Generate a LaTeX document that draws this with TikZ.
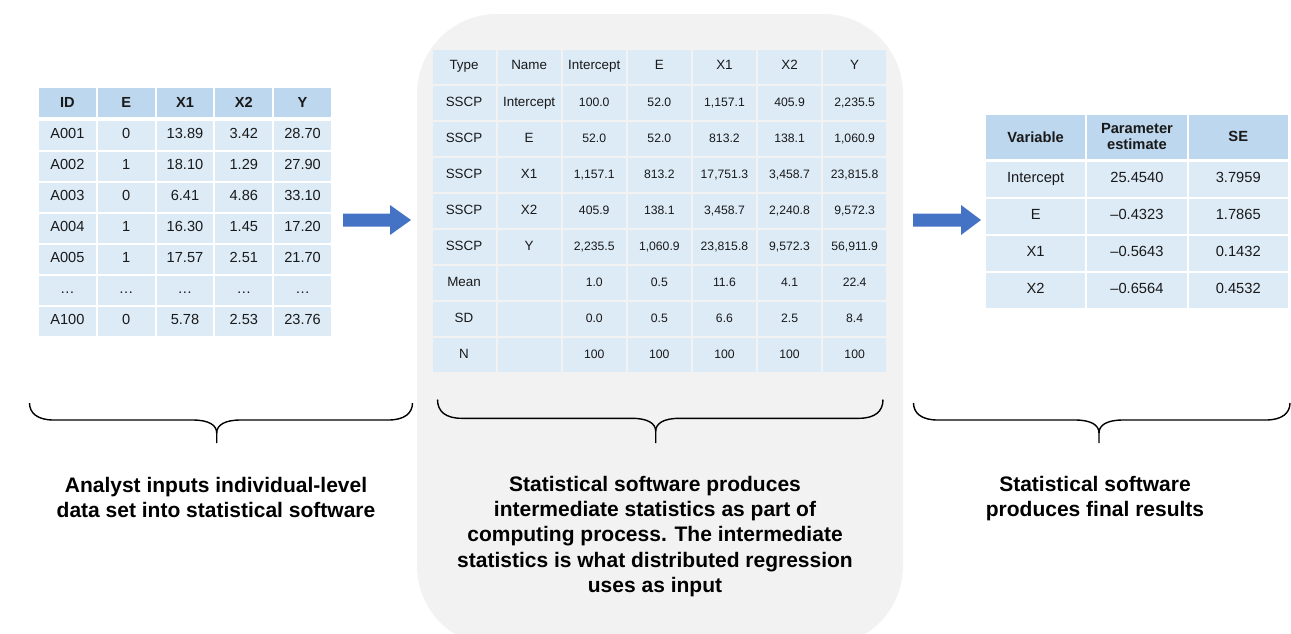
\documentclass[tikz,border=0pt]{standalone}
\usepackage{fontspec}
\setmainfont{Liberation Sans}
\definecolor{hdr}{RGB}{189,215,238}
\definecolor{bodyc}{RGB}{221,235,247}
\definecolor{bgc}{RGB}{242,242,242}
\definecolor{arrc}{RGB}{68,114,196}
\newcommand{\mycell}[7]{%
  \node[#6, minimum width={(#4-#2-2)*1pt}, minimum height={(#5-#3-2)*1pt}] (#1) at ({(#2+#4)/2},{(#3+#5)/2}) {#7};}
\newcommand{\mybrace}[7]{% name, xl, xm, xr, ytop, yh, ybot
  \coordinate (#1-l) at (#2,#5);
  \coordinate (#1-r) at (#4,#5);
  \coordinate (#1-t) at (#3,#7);
  \draw[bracel] (#1-l) .. controls (#2,{#6-7}) and ({#2+8},#6) .. ({#2+24},#6) -- ({#3-24},#6)
     .. controls ({#3-8},#6) and (#3,{#6+5}) .. (#3,{#6+13}) -- (#1-t);
  \draw[bracel] (#1-r) .. controls (#4,{#6-7}) and ({#4-8},#6) .. ({#4-24},#6) -- ({#3+24},#6)
     .. controls ({#3+8},#6) and (#3,{#6+5}) .. (#3,{#6+13});}
\newcommand{\lfnt}{\fontsize{14.6}{17}\selectfont}
\newcommand{\mlab}{\fontsize{13.4}{16}\selectfont}
\newcommand{\mnum}{\fontsize{12.2}{14}\selectfont}
\newcommand{\rfnt}{\fontsize{14.7}{16.5}\selectfont}
\begin{document}
\begin{tikzpicture}[x=1pt,y=-1pt,
  cellb/.style={fill=bodyc, inner sep=0pt, text=black!90, text height=0.72em, text depth=0.05em},
  cellh/.style={fill=hdr, inner sep=0pt, text=black!90, align=center},
  bracel/.style={line width=1.4pt, black},
  arrow/.style={fill=arrc},
  caption/.style={font=\bfseries\fontsize{21}{25.3}\selectfont, align=center, text=black}]
\useasboundingbox (0,0) rectangle (1291,633);
\fill[white] (0,0) rectangle (1291,633);
% grey panel
\fill[bgc, rounded corners=80pt] (417,14) rectangle (903,646);

% ---------- left table ----------
\foreach \t [count=\c] in {ID,E,X1,X2,Y}{
  \pgfmathsetmacro\xa{38+58.8*(\c-1)}
  \pgfmathsetmacro\xb{\xa+58.8}
  \mycell{L-0-\c}{\xa}{87}{\xb}{118}{cellh, font=\lfnt\bfseries}{\t}
}
\foreach \row [count=\r] in {{A001,0,13.89,3.42,28.70},{A002,1,18.10,1.29,27.90},
   {A003,0,6.41,4.86,33.10},{A004,1,16.30,1.45,17.20},{A005,1,17.57,2.51,21.70},
   {…,…,…,…,…},{A100,0,5.78,2.53,23.76}}{
  \pgfmathsetmacro\ya{120+31*(\r-1)}
  \pgfmathsetmacro\yb{\ya+31}
  \foreach \t [count=\c] in \row {
    \pgfmathsetmacro\xa{38+58.8*(\c-1)}
    \pgfmathsetmacro\xb{\xa+58.8}
    \mycell{L-\r-\c}{\xa}{\ya}{\xb}{\yb}{cellb, font=\lfnt}{\t}
  }
}

% ---------- middle table ----------
\foreach \row [count=\r] in {{Type,Name,Intercept,E,X1,X2,Y},
   {SSCP,Intercept,100.0,52.0,{1,157.1},405.9,{2,235.5}},
   {SSCP,E,52.0,52.0,813.2,138.1,{1,060.9}},
   {SSCP,X1,{1,157.1},813.2,{17,751.3},{3,458.7},{23,815.8}},
   {SSCP,X2,405.9,138.1,{3,458.7},{2,240.8},{9,572.3}},
   {SSCP,Y,{2,235.5},{1,060.9},{23,815.8},{9,572.3},{56,911.9}},
   {Mean,{},1.0,0.5,11.6,4.1,22.4},
   {SD,{},0.0,0.5,6.6,2.5,8.4},
   {N,{},100,100,100,100,100}}{
  \pgfmathsetmacro\ya{48.5+36.1*(\r-1)}
  \pgfmathsetmacro\yb{\ya+36.1}
  \foreach \t [count=\c] in \row {
    \pgfmathsetmacro\xa{431.5+65.1*(\c-1)}
    \pgfmathsetmacro\xb{\xa+65.1}
    \ifnum\c<3 \def\myf{\mlab}\else\ifnum\r=1 \def\myf{\mlab}\else\def\myf{\mnum}\fi\fi
    \mycell{M-\r-\c}{\xa}{\ya}{\xb}{\yb}{cellb, font=\myf}{\t}
  }
}

% ---------- right table ----------
\foreach \t [count=\c] in {Variable,{Parameter\\estimate},SE}{
  \pgfmathsetmacro\xa{985+101.3*(\c-1)}
  \pgfmathsetmacro\xb{\xa+101.3}
  \mycell{R-0-\c}{\xa}{114}{\xb}{159.5}{cellh, font=\rfnt\bfseries}{\t}
}
\foreach \row [count=\r] in {{Intercept,25.4540,3.7959},{E,–0.4323,1.7865},
   {X1,–0.5643,0.1432},{X2,–0.6564,0.4532}}{
  \pgfmathsetmacro\ya{160.5+37*(\r-1)}
  \pgfmathsetmacro\yb{\ya+37}
  \foreach \t [count=\c] in \row {
    \pgfmathsetmacro\xa{985+101.3*(\c-1)}
    \pgfmathsetmacro\xb{\xa+101.3}
    \mycell{R-\r-\c}{\xa}{\ya}{\xb}{\yb}{cellb, font=\rfnt}{\t}
  }
}

% ---------- arrows ----------
\fill[arrow] (343,213.5) -- (390,213.5) -- (390,205) -- (411,220) -- (390,235) -- (390,226.5) -- (343,226.5) -- cycle;
\fill[arrow] (913,213.5) -- (961,213.5) -- (961,205) -- (981,220) -- (961,235) -- (961,226.5) -- (913,226.5) -- cycle;

% ---------- braces ----------
\mybrace{b1}{29.5}{216.7}{412.5}{403}{420}{443}
\mybrace{b2}{437.5}{655.7}{883}{399.5}{418.3}{443}
\mybrace{b3}{913.5}{1099}{1290}{403}{420}{443}

% ---------- captions ----------
\node[caption] (c1) at (216,497.5) {Analyst inputs individual-level\\data set into statistical software};
\node[caption] (c2) at (655,536.5) {Statistical software produces\\intermediate statistics as part of\\computing process. The intermediate\\statistics is what distributed regression\\uses as input};
\node[caption] (c3) at (1095,498.5) {Statistical software\\produces final results};
\end{tikzpicture}
\end{document}
